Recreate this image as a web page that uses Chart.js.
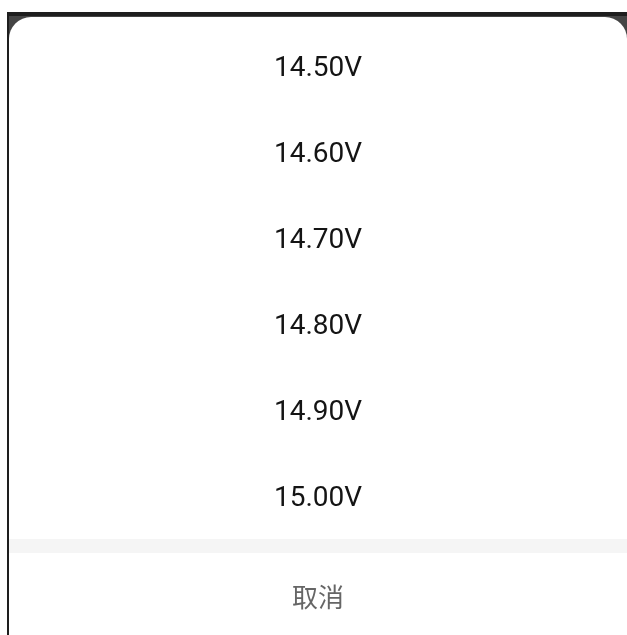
<!DOCTYPE html>
<html>
<head>
<meta charset="utf-8">
<script src="https://cdn.jsdelivr.net/npm/chart.js@4"></script>
<style>
  html, body { margin: 0; padding: 0; background: #fff; }
  #wrap { width: 627px; height: 635px; }
</style>
</head>
<body>
<div id="wrap"><canvas id="picker"></canvas></div>
<script>
// options of the voltage picker
const voltages = ['14.50V', '14.60V', '14.70V', '14.80V', '14.90V', '15.00V'];
const rowWeight = [1, 1, 1, 1, 1, 1];
const cancelText = '取消';

var ctx = document.getElementById('picker').getContext('2d');

// background: dark frame, rounded white sheet, grey band above the cancel button
const sheetBg = {
  id: 'sheetBg',
  beforeDraw(chart) {
    const c = chart.ctx, w = chart.width, h = chart.height;
    c.save();
    c.fillStyle = '#ffffff';
    c.fillRect(0, 0, w, h);
    c.fillStyle = '#444444';
    c.fillRect(7, 12, w - 7, 40);
    c.fillStyle = '#1e1e1e';
    c.fillRect(7, 12, w - 7, 4);
    c.fillRect(7, 12, 2, h - 12);
    c.fillStyle = '#ffffff';
    c.beginPath();
    c.roundRect(9, 17, w - 9, h + 20, 22);
    c.fill();
    const area = chart.chartArea;
    c.fillStyle = '#f5f5f5';
    c.fillRect(9, area.bottom, w - 9, 14);
    c.restore();
  }
};

// option texts, placed on the rows of the y scale
const rowText = {
  id: 'rowText',
  afterDatasetsDraw(chart) {
    const c = chart.ctx, area = chart.chartArea;
    const yScale = chart.scales.y;
    const cx = (area.left + area.right) / 2;
    c.save();
    c.textAlign = 'center';
    c.textBaseline = 'middle';
    c.fillStyle = '#141414';
    c.font = '28px Roboto';
    chart.data.labels.forEach((lab, i) => {
      c.fillText(lab, cx, yScale.getPixelForValue(i) + 3);
    });
    c.fillStyle = '#666666';
    c.font = '26px "Noto Sans CJK SC"';
    c.fillText(cancelText, cx, area.bottom + 58);
    c.restore();
  }
};

const picker = new Chart(ctx, {
  type: 'bar',
  data: {
    labels: voltages,
    datasets: [{
      data: rowWeight,
      backgroundColor: 'rgba(0,0,0,0)',
      borderWidth: 0
    }]
  },
  options: {
    indexAxis: 'y',
    responsive: true,
    maintainAspectRatio: false,
    animation: false,
    layout: { padding: { left: 9, right: 0, top: 23, bottom: 96 } },
    scales: {
      x: { display: false, min: 0, max: 1 },
      y: { display: false, offset: true }
    },
    plugins: {
      legend: { display: false },
      tooltip: { enabled: false }
    }
  },
  plugins: [sheetBg, rowText]
});
</script>
</body>
</html>
